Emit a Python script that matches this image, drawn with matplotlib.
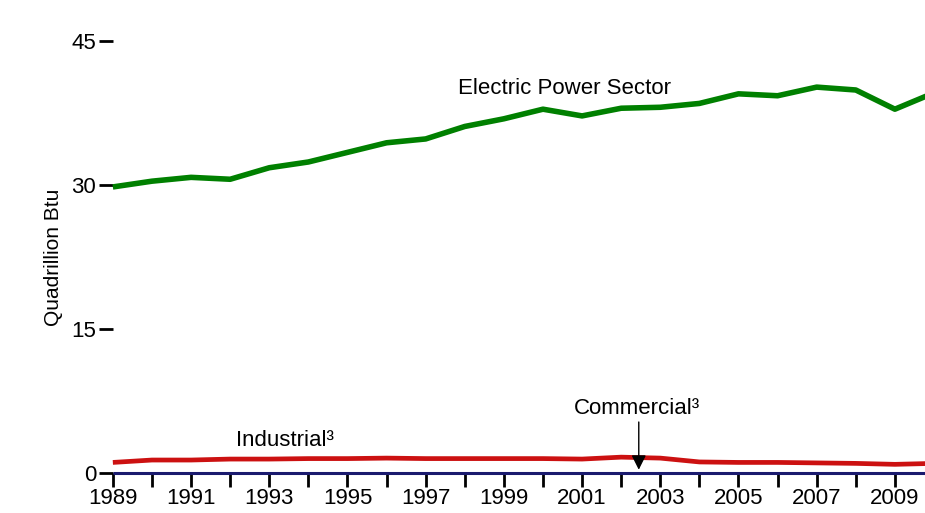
import matplotlib
matplotlib.use("Agg")
import matplotlib.pyplot as plt
import numpy as np

plt.rcParams['font.family'] = ['Liberation Sans', 'DejaVu Sans']

years = np.arange(1989, 2011)
electric_power = [29.8, 30.4, 30.8, 30.6, 31.8, 32.4, 33.4, 34.4, 34.8, 36.1, 36.9,
                  37.9, 37.2, 38.0, 38.1, 38.5, 39.5, 39.3, 40.2, 39.9, 37.9, 39.6]
industrial = [1.1, 1.35, 1.35, 1.45, 1.45, 1.5, 1.5, 1.55, 1.5, 1.5, 1.5,
              1.5, 1.45, 1.65, 1.55, 1.15, 1.1, 1.1, 1.05, 1.0, 0.9, 1.0]
commercial = [0.05, 0.05, 0.05, 0.05, 0.05, 0.05, 0.05, 0.05, 0.05, 0.05, 0.05,
              0.05, 0.05, 0.05, 0.05, 0.05, 0.05, 0.05, 0.05, 0.05, 0.05, 0.05]
y_ticks = [0, 15, 30, 45]

fig = plt.figure(figsize=(9.25, 5.13), dpi=100)
ax = fig.add_axes([0.122, 0.078, 0.878, 0.842])

ax.plot(years, electric_power, color='#008000', lw=4.0, clip_on=False, solid_capstyle='butt')
ax.plot(years, industrial, color='#cc1111', lw=3.4, clip_on=False, solid_capstyle='butt')
ax.plot(years, commercial, color='#1a1a6e', lw=2.2, clip_on=False, solid_capstyle='butt')

ax.set_xlim(1989, 2009.77)
ax.set_ylim(0, 45)

for s in ax.spines.values():
    s.set_visible(False)

ax.set_yticks(y_ticks)
ax.set_xticks(years[:-1])
ax.set_xticklabels([str(y) if (y - 1989) % 2 == 0 else '' for y in years[:-1]])
ax.tick_params(axis='y', length=10, width=2, labelsize=16, pad=2)
ax.tick_params(axis='x', length=10, width=2, labelsize=16, pad=1)

ax.set_ylabel('Quadrillion Btu', fontsize=15, labelpad=6)

ax.text(2000.55, 40.1, 'Electric Power Sector', fontsize=16, ha='center', va='center')
ax.text(1993.4, 3.4, 'Industrial³', fontsize=16, ha='center', va='center')
ax.text(2002.4, 6.7, 'Commercial³', fontsize=16, ha='center', va='center')
ax.annotate('', xy=(2002.45, 0.05), xytext=(2002.45, 5.6),
            arrowprops=dict(arrowstyle='-|>', color='black', lw=1, mutation_scale=22),
            annotation_clip=False)

fig.savefig('out.png', dpi=100)
